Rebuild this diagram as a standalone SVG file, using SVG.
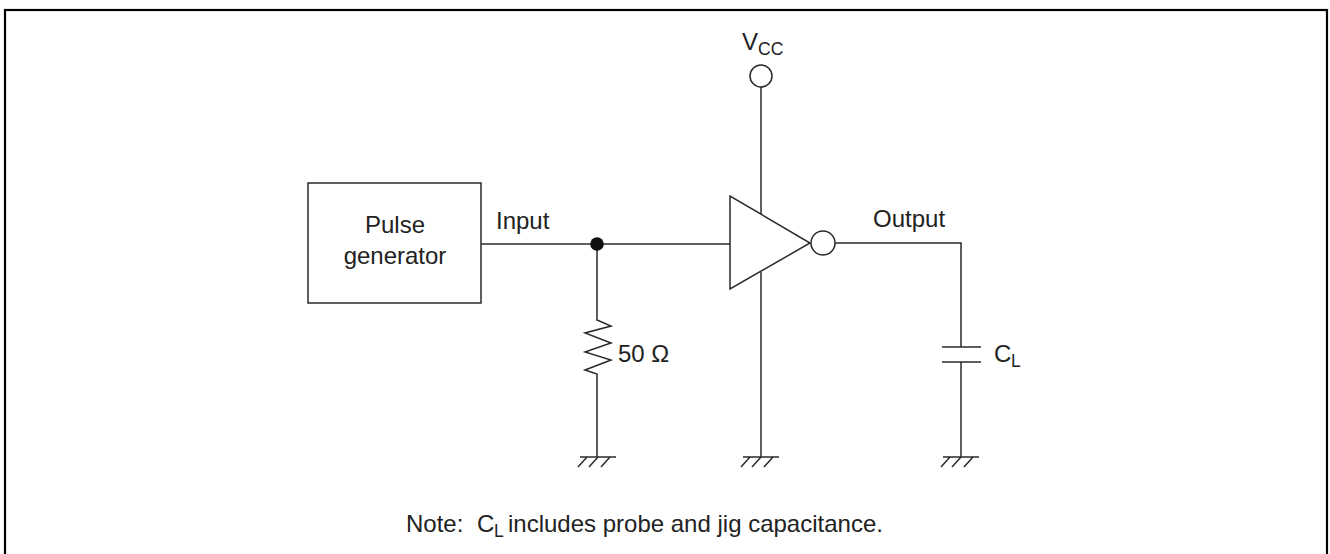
<svg xmlns="http://www.w3.org/2000/svg" width="1330" height="554" viewBox="0 0 1330 554">
<style>
.w{fill:none;stroke:#2a2a2a;stroke-width:1.5}
.t{font-family:"Liberation Sans",Arial,sans-serif;font-size:24px;fill:#222}
.s{font-size:17.5px}
</style>
<defs>
<g id="gnd" class="w">
<line x1="-18" y1="0" x2="18" y2="0"/>
<line x1="-11" y1="0" x2="-20" y2="10"/>
<line x1="0" y1="0" x2="-9" y2="10"/>
<line x1="12" y1="0" x2="3" y2="10"/>
</g>
</defs>
<rect x="0" y="0" width="1330" height="554" fill="#fff"/>
<rect x="5" y="10" width="1322" height="570" fill="none" stroke="#000" stroke-width="2.2"/>
<g id="connectors" class="w">
<line x1="481" y1="244" x2="730" y2="244"/>
<polyline points="597,244 597,320 611,326 585,333 611,343 585,352 611,360 585,370 597,374 597,457"/>
<line x1="761" y1="87" x2="761" y2="214"/>
<line x1="761" y1="272" x2="761" y2="457"/>
<polyline points="835,243 961,243 961,347"/>
<line x1="961" y1="362" x2="961" y2="457"/>
</g>
<g id="pulse-generator">
<rect x="308" y="183" width="173" height="120" class="w"/>
<text class="t" x="395" y="233" text-anchor="middle">Pulse</text>
<text class="t" x="395" y="264" text-anchor="middle">generator</text>
</g>
<g id="input-label"><text class="t" x="496" y="229">Input</text></g>
<g id="junction"><circle cx="597" cy="244" r="6.8" fill="#111"/></g>
<g id="resistor-label"><text class="t" x="618" y="362">50 Ω</text></g>
<g id="gnd1"><use href="#gnd" x="598" y="457"/></g>
<g id="vcc">
<circle cx="761" cy="76" r="11" class="w"/>
<text class="t" x="742" y="50">V<tspan class="s" x="758" y="55">CC</tspan></text>
</g>
<g id="inverter">
<polygon points="730,196 730,289 810,243" class="w"/>
<circle cx="823" cy="243" r="12" class="w"/>
</g>
<g id="gnd2"><use href="#gnd" x="761" y="457"/></g>
<g id="output-label"><text class="t" x="873" y="227">Output</text></g>
<g id="capacitor">
<line x1="942" y1="347" x2="981" y2="347" class="w"/>
<line x1="942" y1="362" x2="981" y2="362" class="w"/>
<text class="t" x="994" y="362">C<tspan class="s" x="1011" y="367">L</tspan></text>
</g>
<g id="gnd3"><use href="#gnd" x="961" y="457"/></g>
<g id="note">
<text class="t" x="406" y="532">Note:<tspan x="477">C</tspan><tspan class="s" x="494" y="537">L</tspan><tspan x="508" y="532">includes probe and jig capacitance.</tspan></text>
</g>
</svg>
